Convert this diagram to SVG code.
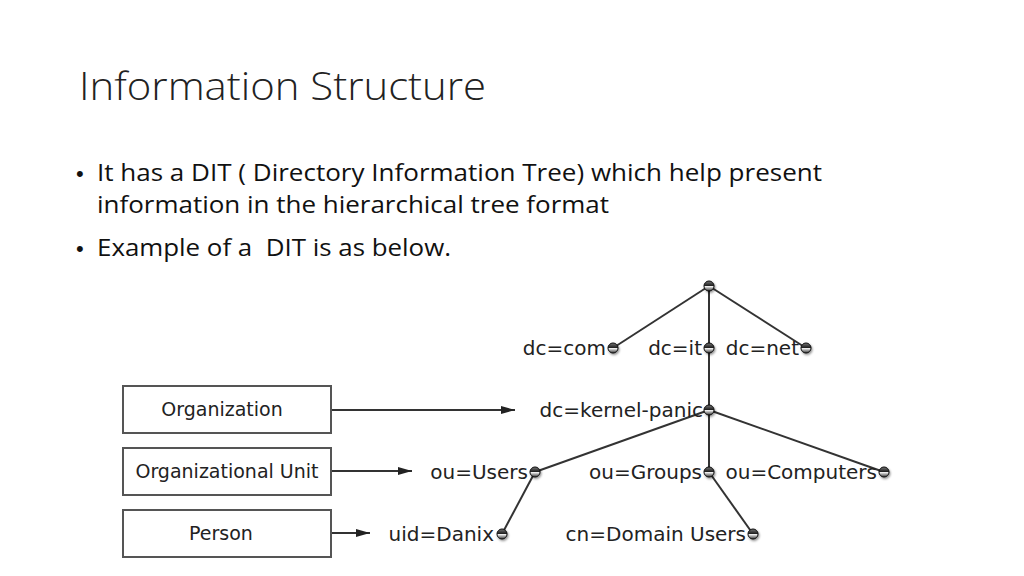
<svg xmlns="http://www.w3.org/2000/svg" width="1024" height="576" viewBox="0 0 1024 576">
  <defs>
    <linearGradient id="dotg" x1="0" y1="0" x2="0" y2="1">
      <stop offset="0" stop-color="#777"/>
      <stop offset="0.45" stop-color="#222"/>
      <stop offset="0.55" stop-color="#eee"/>
      <stop offset="1" stop-color="#333"/>
    </linearGradient>
    <filter id="sh" x="-50%" y="-50%" width="200%" height="200%">
      <feDropShadow dx="1" dy="1.5" stdDeviation="1" flood-color="#000" flood-opacity="0.45"/>
    </filter>
    <marker id="arr" viewBox="0 0 14 8" refX="14" refY="4" markerWidth="14" markerHeight="8" markerUnits="userSpaceOnUse" orient="auto">
      <path d="M0,0 L14,4 L0,8 Z" fill="#222"/>
    </marker>
  </defs>
  <style>
    .title{font-family:"Open Sans","Liberation Sans",sans-serif;font-size:38px;fill:#222;font-weight:300}
    .body{font-family:"Open Sans","Liberation Sans",sans-serif;font-size:23px;fill:#111;white-space:pre}
    .bul{font-family:"Liberation Sans",sans-serif;font-size:22px;fill:#111}
    .lbl{font-family:"DejaVu Sans",sans-serif;font-size:20px;fill:#222;text-anchor:end}
    .blbl{font-family:"DejaVu Sans",sans-serif;font-size:19px;fill:#222;text-anchor:middle}
    .edge{stroke:#333;stroke-width:2;fill:none}
    .box{fill:#fff;stroke:#555;stroke-width:2}
    .arrow{stroke:#333;stroke-width:2;fill:none;marker-end:url(#arr)}
    .dot{fill:url(#dotg);stroke:#111;stroke-width:1;filter:url(#sh)}
  </style>
  <rect width="1024" height="576" fill="#fff"/>

  <text class="title" x="79" y="100" textLength="407" lengthAdjust="spacingAndGlyphs">Information Structure</text>
  <text class="bul" x="76" y="181">•</text>
  <text class="body" x="97" y="181" textLength="725" lengthAdjust="spacingAndGlyphs">It has a DIT ( Directory Information Tree) which help present</text>
  <text class="body" x="97" y="213" textLength="512" lengthAdjust="spacingAndGlyphs">information in the hierarchical tree format</text>
  <text class="bul" x="76" y="256">•</text>
  <text class="body" x="97" y="256" textLength="354" lengthAdjust="spacingAndGlyphs" xml:space="preserve">Example of a  DIT is as below.</text>

  <g id="connectors">
    <line class="edge" x1="709" y1="286" x2="613" y2="348"/>
    <line class="edge" x1="709" y1="286" x2="709" y2="348"/>
    <line class="edge" x1="709" y1="286" x2="806" y2="348"/>
    <line class="edge" x1="709" y1="348" x2="709" y2="410"/>
    <line class="edge" x1="709" y1="410" x2="535" y2="472"/>
    <line class="edge" x1="709" y1="410" x2="709" y2="472"/>
    <line class="edge" x1="709" y1="410" x2="884" y2="472"/>
    <line class="edge" x1="535" y1="472" x2="502" y2="534"/>
    <line class="edge" x1="709" y1="472" x2="753" y2="534"/>
    <line class="arrow" x1="331" y1="410" x2="515" y2="410"/>
    <line class="arrow" x1="331" y1="471" x2="412" y2="471"/>
    <line class="arrow" x1="331" y1="533" x2="370" y2="533"/>
  </g>

  <g id="root"><circle class="dot" cx="709" cy="286" r="5"/></g>
  <g id="dc-com"><circle class="dot" cx="613" cy="348" r="5"/><text class="lbl" x="606" y="355">dc=com</text></g>
  <g id="dc-it"><circle class="dot" cx="709" cy="348" r="5"/><text class="lbl" x="702" y="355">dc=it</text></g>
  <g id="dc-net"><circle class="dot" cx="806" cy="348" r="5"/><text class="lbl" x="799" y="355">dc=net</text></g>
  <g id="dc-kernel-panic"><circle class="dot" cx="709" cy="410" r="5"/><text class="lbl" x="703" y="417">dc=kernel-panic</text></g>
  <g id="ou-users"><circle class="dot" cx="535" cy="472" r="5"/><text class="lbl" x="528" y="479">ou=Users</text></g>
  <g id="ou-groups"><circle class="dot" cx="709" cy="472" r="5"/><text class="lbl" x="702" y="479">ou=Groups</text></g>
  <g id="ou-computers"><circle class="dot" cx="884" cy="472" r="5"/><text class="lbl" x="877" y="479">ou=Computers</text></g>
  <g id="uid-danix"><circle class="dot" cx="502" cy="534" r="5"/><text class="lbl" x="494" y="541">uid=Danix</text></g>
  <g id="cn-domain-users"><circle class="dot" cx="753" cy="534" r="5"/><text class="lbl" x="746" y="541">cn=Domain Users</text></g>

  <g id="box-organization"><rect class="box" x="123" y="386" width="208" height="47"/><text class="blbl" x="222" y="416">Organization</text></g>
  <g id="box-org-unit"><rect class="box" x="123" y="448" width="208" height="47"/><text class="blbl" x="227" y="478">Organizational Unit</text></g>
  <g id="box-person"><rect class="box" x="123" y="510" width="208" height="47"/><text class="blbl" x="221" y="540">Person</text></g>
</svg>
